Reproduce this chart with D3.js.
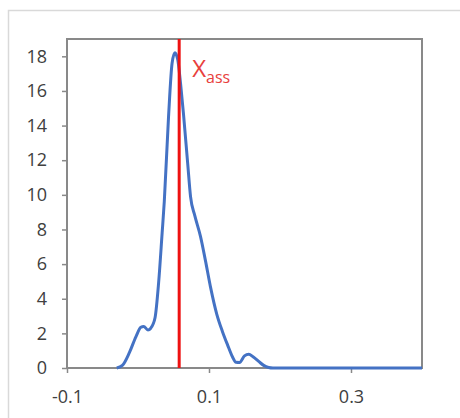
<!DOCTYPE html>
<html>
<head>
<meta charset="utf-8">
<script src="https://cdn.jsdelivr.net/npm/d3@7"></script>
<style>
  body { margin: 0; background: #fff; }
  svg { display: block; }
</style>
</head>
<body>
<svg id="chart"></svg>
<script>
//**** DATA ****//
const xValues = [-0.030, -0.022, -0.012, -0.003, 0.004, 0.008, 0.014, 0.018, 0.024, 0.029,
                 0.034, 0.037, 0.043, 0.048, 0.052, 0.056, 0.060, 0.064, 0.070, 0.074,
                 0.080, 0.088, 0.095, 0.102, 0.111, 0.119, 0.126, 0.133, 0.138, 0.143,
                 0.150, 0.156, 0.162, 0.170, 0.177, 0.184, 0.190, 0.250, 0.300, 0.350, 0.400];
const density = [0, 0.15, 0.9, 1.8, 2.35, 2.4, 2.2, 2.3, 2.9, 4.9,
                 7.8, 9.6, 14.5, 17.6, 18.2, 17.8, 16.4, 14.7, 11.8, 9.9,
                 8.8, 7.6, 6.2, 4.7, 3.1, 2.1, 1.35, 0.65, 0.33, 0.32,
                 0.7, 0.8, 0.65, 0.38, 0.15, 0.03, 0, 0, 0, 0, 0];
const xTicks = [-0.1, 0.1, 0.3];
const yTicks = [0, 2, 4, 6, 8, 10, 12, 14, 16, 18];
const xAss = 0.058;

const width = 460,
      height = 418;
const plot = {left: 67, top: 39, right: 422, bottom: 368};

const svg = d3.select('#chart')
    .attr('width', width)
    .attr('height', height);

// outer chart frame (cut off at right / bottom)
svg.append('rect')
    .attr('x', 8.5).attr('y', 10.5)
    .attr('width', 480).attr('height', 440)
    .attr('fill', 'none')
    .attr('stroke', '#d9d9d9')
    .attr('stroke-width', 1.5);

const x = d3.scaleLinear().domain([-0.1, 0.4]).range([plot.left, plot.right]);
const y = d3.scaleLinear().domain([0, 19]).range([plot.bottom, plot.top]);

const font = '"Open Sans", "Noto Sans", sans-serif';

// axes
const xAxis = svg.append('g')
    .attr('transform', 'translate(0,' + plot.bottom + ')')
    .call(d3.axisBottom(x).tickValues(xTicks).tickSize(5).tickPadding(17)
        .tickFormat(d3.format('.1f')));
const yAxis = svg.append('g')
    .attr('transform', 'translate(' + plot.left + ',0)')
    .call(d3.axisLeft(y).tickValues(yTicks).tickSize(5).tickPadding(15));

[xAxis, yAxis].forEach(function(g) {
    g.select('.domain').remove();
    g.selectAll('line').attr('stroke', '#898989').attr('stroke-width', 1.5);
    g.selectAll('text')
        .style('font-family', font)
        .style('font-size', '18px')
        .attr('fill', '#404040');
});
xAxis.selectAll('text').text(function(d) { return d.toFixed(1); });

// plot frame
svg.append('rect')
    .attr('x', plot.left).attr('y', plot.top)
    .attr('width', plot.right - plot.left)
    .attr('height', plot.bottom - plot.top)
    .attr('fill', 'none')
    .attr('stroke', '#898989')
    .attr('stroke-width', 2);

// density curve
const line = d3.line()
    .x(function(d, i) { return x(xValues[i]); })
    .y(function(d) { return y(d); })
    .curve(d3.curveMonotoneX);

svg.append('path')
    .datum(density)
    .attr('d', line)
    .attr('fill', 'none')
    .attr('stroke', '#4472c4')
    .attr('stroke-width', 3)
    .attr('stroke-linejoin', 'round');

// X_ass marker
svg.append('line')
    .attr('x1', x(xAss)).attr('x2', x(xAss))
    .attr('y1', plot.top).attr('y2', plot.bottom)
    .attr('stroke', '#ee1111')
    .attr('stroke-width', 3);

const label = svg.append('text')
    .attr('x', x(xAss) + 13)
    .attr('y', 77)
    .attr('fill', '#e8403c')
    .style('font-family', font)
    .style('font-size', '24px');
label.append('tspan').text('X');
label.append('tspan').attr('dy', 6).style('font-size', '16px').text('ass');
</script>
</body>
</html>
